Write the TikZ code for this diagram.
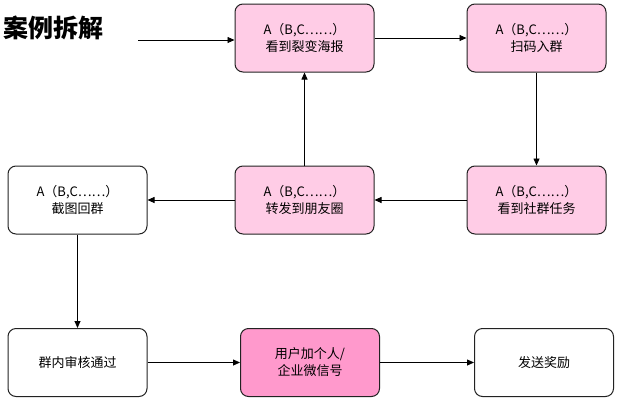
\documentclass[tikz,border=0pt]{standalone}
\usepackage{fontspec}
\setmainfont{Noto Sans CJK SC}
\usetikzlibrary{arrows.meta}
\definecolor{lpink}{HTML}{FFCCE6}
\definecolor{dpink}{HTML}{FF99CC}
\definecolor{edge}{HTML}{222222}
\begin{document}
\begin{tikzpicture}[x=1pt,y=-1pt,
  box/.style={draw=edge,line width=1pt,rounded corners=8pt,minimum width=139pt,minimum height=68pt,align=center,font=\fontsize{13}{17}\selectfont,inner sep=2pt},
  lp/.style={box,fill=lpink},
  dp/.style={box,fill=dpink},
  wb/.style={box,fill=white},
  conn/.style={draw=black,line width=0.8pt,-{Triangle[length=7pt,width=6pt]}}]
\useasboundingbox (0,0) rectangle (618,407);
\node[anchor=west,font=\fontsize{25}{28}\bfseries\selectfont,inner sep=0pt] (title) at (3,28) {案例拆解};
\coordinate (start) at (138,40);
\node[lp] (b1) at (304.5,38) {A（B,C……）\\看到裂变海报};
\node[lp] (b2) at (536.5,38) {A（B,C……）\\扫码入群};
\node[lp] (b3) at (536.5,200) {A（B,C……）\\看到社群任务};
\node[lp] (b4) at (304.5,200) {A（B,C……）\\转发到朋友圈};
\node[wb] (b5) at (77.5,200) {A（B,C……）\\截图回群};
\node[wb] (b6) at (77.5,362.5) {群内审核通过};
\node[dp] (b7) at (310,362.5) {用户加个人/\\企业微信号};
\node[wb] (b8) at (544,362.5) {发送奖励};
\draw[conn] (start) -- (start -| b1.west);
\draw[conn] (b1) -- (b2);
\draw[conn] (b2) -- (b3);
\draw[conn] (b3) -- (b4);
\draw[conn] (b4) -- (b1);
\draw[conn] (b4) -- (b5);
\draw[conn] (b5) -- (b6);
\draw[conn] (b6) -- (b7);
\draw[conn] (b7) -- (b8);
\end{tikzpicture}
\end{document}
